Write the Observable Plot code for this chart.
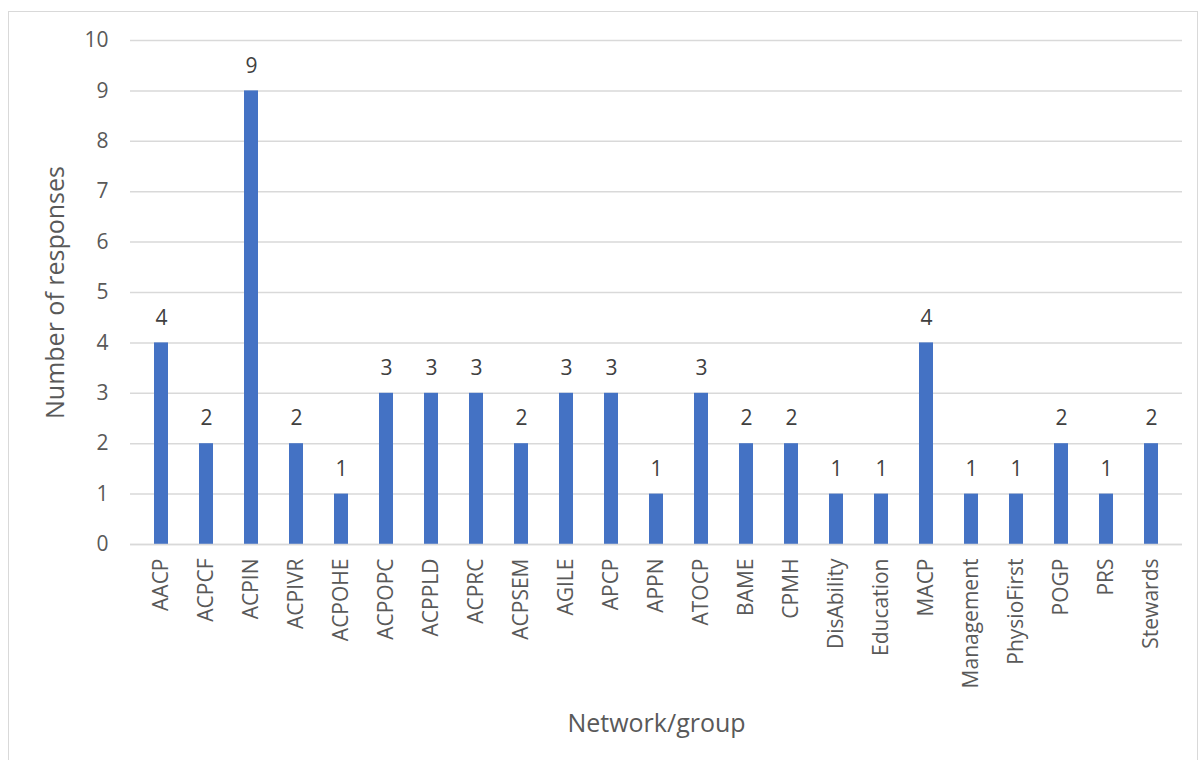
<!DOCTYPE html>
<html>
<head>
<meta charset="utf-8">
<script src="https://cdn.jsdelivr.net/npm/d3@7"></script>
<script src="https://cdn.jsdelivr.net/npm/@observablehq/plot@0.6"></script>
<style>
  html, body { margin: 0; padding: 0; background: #fff; }
  #wrap { position: relative; width: 1198px; height: 760px; overflow: hidden; }
  #frame { position: absolute; left: 8px; top: 11px; width: 1190px; height: 760px; border: 1.5px solid #d9d9d9; box-sizing: border-box; }
  #chart { position: absolute; left: 0; top: 0; }
</style>
</head>
<body>
<div id="wrap"><div id="frame"></div><div id="chart"></div></div>
<script>
const categories = ["AACP","ACPCF","ACPIN","ACPIVR","ACPOHE","ACPOPC","ACPPLD","ACPRC","ACPSEM","AGILE","APCP","APPN","ATOCP","BAME","CPMH","DisAbility","Education","MACP","Management","PhysioFirst","POGP","PRS","Stewards"];
const responses = [4,2,9,2,1,3,3,3,2,3,3,1,3,2,2,1,1,4,1,1,2,1,2];
const yTicks = [0,1,2,3,4,5,6,7,8,9,10];

const data = categories.map((c, i) => ({group: c, value: responses[i]}));
const font = "'Open Sans', sans-serif";

const chart = Plot.plot({
  width: 1198,
  height: 760,
  marginLeft: 130,
  marginRight: 16,
  marginTop: 40,
  marginBottom: 216,
  style: {fontFamily: font, fontSize: "21px", color: "#595959", background: "transparent"},
  x: {domain: categories, paddingInner: 0.69, paddingOuter: 0.345},
  y: {domain: [0, 10]},
  marks: [
    Plot.gridY(yTicks, {stroke: "#d9d9d9", strokeWidth: 1.5, strokeOpacity: 1}),
    Plot.axisY(yTicks, {tickSize: 0, tickPadding: 22, fontSize: 21, tickFormat: d => d, label: null}),
    Plot.axisY({tickSize: 0, ticks: [], fontSize: 25, label: "Number of responses", labelAnchor: "center", labelArrow: "none", labelOffset: 84}),
    Plot.axisX({tickSize: 0, tickPadding: 14, tickRotate: -90, fontSize: 21, label: null}),
    Plot.axisX({tickSize: 0, ticks: [], fontSize: 25, label: "Network/group", labelAnchor: "center", labelArrow: "none", labelOffset: 187}),
    Plot.barY(data, {x: "group", y: "value", fill: "#4472c4"}),
    Plot.ruleY([0], {stroke: "#d9d9d9", strokeWidth: 1.5}),
    Plot.text(data, {x: "group", y: "value", text: d => String(d.value), dy: -25, fontSize: 21, fill: "#404040"})
  ]
});
document.getElementById("chart").appendChild(chart);
</script>
</body>
</html>
